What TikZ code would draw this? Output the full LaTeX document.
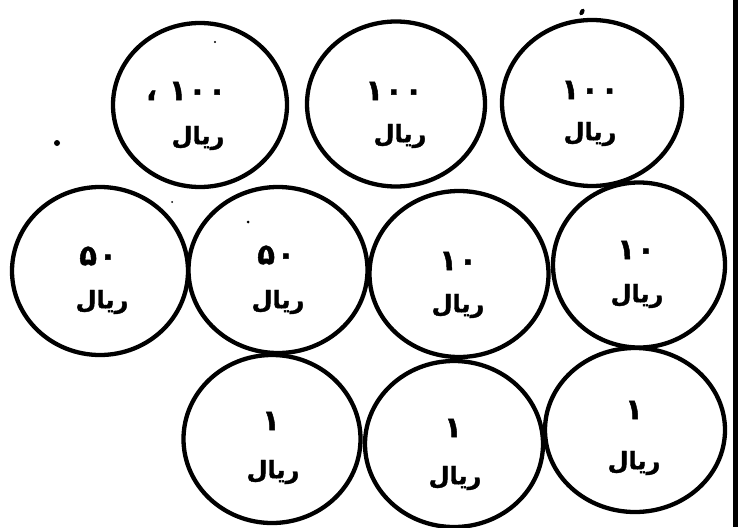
\documentclass[tikz,border=0pt]{standalone}
\usepackage{fontspec}
\usetikzlibrary{shapes.geometric}
\TeXXeTstate=1
\newfontfamily\arabicfont[Script=Arabic, BoldFeatures={FakeBold=1.6}]{DejaVu Sans}
\tikzset{
  coin/.style={ellipse, draw=black, line width=4.3pt, inner sep=0pt, fill=none},
  numtxt/.style={font=\arabicfont\bfseries\fontsize{29}{30}\selectfont, inner sep=0pt},
  rialtxt/.style={font=\arabicfont\bfseries\fontsize{24}{26}\selectfont, inner sep=0pt},
  speck/.style={fill=black, draw=none}
}
\newcommand{\rial}{\beginR ریال\endR}
\newcommand{\dsp}{\hspace{2pt}}
\begin{document}
\begin{tikzpicture}[x=1pt,y=-1pt]
\useasboundingbox (0,0) rectangle (741,527);
% top row
\node[coin, minimum width=174pt, minimum height=164pt] (c1) at (200,105) {};
\node[coin, minimum width=178pt, minimum height=165pt] (c2) at (396,104) {};
\node[coin, minimum width=180pt, minimum height=166pt] (c3) at (592,103) {};
% middle row
\node[coin, minimum width=176pt, minimum height=168pt] (c4) at (100,271) {};
\node[coin, minimum width=179pt, minimum height=166pt] (c5) at (278,270) {};
\node[coin, minimum width=179pt, minimum height=166pt] (c6) at (459,274) {};
\node[coin, minimum width=172pt, minimum height=165pt] (c7) at (639,265) {};
% bottom row
\node[coin, minimum width=177pt, minimum height=168pt] (c8) at (272,439) {};
\node[coin, minimum width=178pt, minimum height=166pt] (c9) at (454,444) {};
\node[coin, minimum width=180pt, minimum height=164pt] (c10) at (635,430) {};
% values
\node[numtxt] (n1) at (186,91) {،\hspace{12pt}۱\dsp۰\dsp۰};
\node[numtxt] (n2) at (394,91) {۱\dsp۰\dsp۰};
\node[numtxt] (n3) at (590,90) {۱\dsp۰\dsp۰};
\node[numtxt] (n4) at (98,256) {۵\dsp۰};
\node[numtxt] (n5) at (276,255) {۵\dsp۰};
\node[numtxt] (n6) at (458,261) {۱\dsp۰};
\node[numtxt] (n7) at (636,250) {۱\dsp۰};
\node[numtxt] (n8) at (271,421) {۱};
\node[numtxt] (n9) at (453,428) {۱};
\node[numtxt] (n10) at (634,410) {۱};
% rial labels
\node[rialtxt] (r1) at (198,138) {\rial};
\node[rialtxt] (r2) at (400,136) {\rial};
\node[rialtxt] (r3) at (590,134) {\rial};
\node[rialtxt] (r4) at (102,302) {\rial};
\node[rialtxt] (r5) at (278,302) {\rial};
\node[rialtxt] (r6) at (458,306) {\rial};
\node[rialtxt] (r7) at (637,296) {\rial};
\node[rialtxt] (r8) at (273,472) {\rial};
\node[rialtxt] (r9) at (455,478) {\rial};
\node[rialtxt] (r10) at (634,463) {\rial};
% right border line
\coordinate (vtop) at (735.5,0);
\coordinate (vbot) at (735.5,527);
\draw[line width=4.5pt] (vtop) -- (vbot);
% stray specks
\fill[speck, rotate around={-30:(582,12)}] (582,12) ellipse (2.2pt and 3.5pt);
\fill[speck] (57,143) circle (3pt);
\fill[speck] (215,42) circle (1.2pt);
\fill[speck] (248,222) circle (1.5pt);
\fill[speck] (172,202) circle (1pt);
\end{tikzpicture}
\end{document}
